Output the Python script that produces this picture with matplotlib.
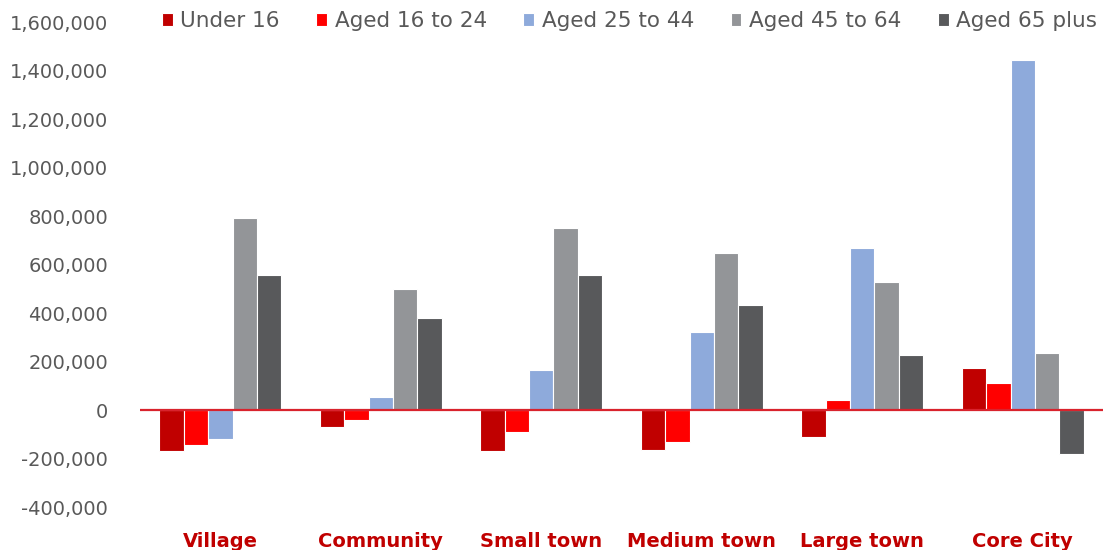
import numpy as np
import matplotlib.pyplot as plt
from matplotlib.ticker import FuncFormatter

# settlement types and change in population by age band
places = ["Village", "Community", "Small town", "Medium town", "Large town", "Core City"]
under_16 = [-170000, -69000, -170000, -163000, -113000, 175000]
aged_16_24 = [-142000, -40000, -90000, -131000, 42000, 112000]
aged_25_44 = [-119000, 54000, 167000, 322000, 669000, 1445000]
aged_45_64 = [790000, 500000, 750000, 647000, 529000, 234000]
aged_65_plus = [555000, 380000, 555000, 435000, 228000, -181000]

series = [("Under 16", under_16, "#C00000"),
          ("Aged 16 to 24", aged_16_24, "#FF0000"),
          ("Aged 25 to 44", aged_25_44, "#8EAADB"),
          ("Aged 45 to 64", aged_45_64, "#939598"),
          ("Aged 65 plus", aged_65_plus, "#58595B")]

txt_col = "#595959"
plt.rcParams['font.family'] = ['DejaVu Sans']

fig = plt.figure(figsize=(11.03, 5.5), dpi=100)
ax = fig.add_axes([0.127, 0.078, 0.873, 0.882])

x = np.arange(len(places))
w = 0.152
for i, (name, vals, col) in enumerate(series):
    ax.bar(x + (i - 2) * w, vals, width=w, color=col, edgecolor="white",
           linewidth=0.8, label=name, zorder=2)

ax.axhline(0, color="#D9232D", linewidth=1.6, zorder=3)

ax.set_xlim(-0.5, len(places) - 0.5)
ax.set_ylim(-400000, 1600000)
ax.set_yticks(np.arange(-400000, 1600001, 200000))
ax.yaxis.set_major_formatter(FuncFormatter(lambda v, p: f"{int(v):,}"))
ax.tick_params(axis="y", length=0, labelsize=14, labelcolor=txt_col, pad=23)

ax.set_xticks(x)
ax.set_xticklabels(places, fontsize=14, fontweight="bold", color="#C00000")
ax.tick_params(axis="x", length=0, pad=18)

for s in ax.spines.values():
    s.set_visible(False)

leg = ax.legend(loc="upper right", bbox_to_anchor=(1.003, 1.04), ncol=5,
                frameon=False, fontsize=15.5, handlelength=0.5, handleheight=0.5,
                handletextpad=0.35, columnspacing=1.7, borderaxespad=0)
for t in leg.get_texts():
    t.set_color(txt_col)

fig.savefig("out.png", dpi=100)
